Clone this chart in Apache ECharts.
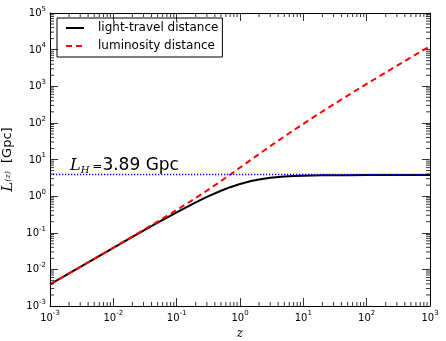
<!DOCTYPE html>
<html>
<head>
<meta charset="UTF-8">
<title>light-travel vs luminosity distance</title>
<script src="https://cdn.jsdelivr.net/npm/echarts@6/dist/echarts.min.js"></script>
<style>
  html, body { margin: 0; padding: 0; background: #fff; }
</style>
</head>
<body>
<div id="main" style="width: 446px;height:341px;"></div>
<script type="text/javascript">
// redshift samples and the two distances (Gpc)
var zVals = [0.001, 0.002, 0.005, 0.01, 0.02, 0.05, 0.1, 0.2, 0.3, 0.5, 0.7, 1, 1.5, 2, 3, 5, 7, 10, 20, 50, 100, 200, 500, 1000];
var lightTravel = [0.00389, 0.00777, 0.0194, 0.0386, 0.0767, 0.1878, 0.3623, 0.6773, 0.952, 1.404, 1.755, 2.149, 2.581, 2.852, 3.162, 3.429, 3.541, 3.621, 3.701, 3.737, 3.746, 3.749, 3.750, 3.750];
var lumDist = [0.003893, 0.007792, 0.01953, 0.0392, 0.0790, 0.2019, 0.4181, 0.8902, 1.410, 2.573, 3.869, 6.002, 9.909, 14.11, 23.09, 42.38, 62.69, 94.33, 204.9, 554.3, 1156, 2383, 6124, 12421];
var hubbleLen = 3.89;
var xRange = [0.001, 1000];
var yRange = [0.001, 100000];
var minorMult = [2, 3, 4, 5, 6, 7, 8, 9];

var myChart = echarts.init(document.getElementById('main'));

function pairs(xs, ys) {
    var out = [];
    for (var i = 0; i < xs.length; i++) out.push([xs[i], ys[i]]);
    return out;
}

// minor tick positions 2..9 x 10^k inside a range
function minorTicks(range) {
    var out = [];
    var k0 = Math.round(Math.log10(range[0])), k1 = Math.round(Math.log10(range[1]));
    for (var k = k0; k < k1; k++) {
        for (var j = 0; j < minorMult.length; j++) out.push(minorMult[j] * Math.pow(10, k));
    }
    return out;
}

function powLabel(v) {
    var e = Math.round(Math.log10(v));
    return '{b|10}{s|' + e + '}';
}
var powRich = {
    b: { fontSize: 10, fontFamily: 'DejaVu Sans', color: '#000', verticalAlign: 'bottom', lineHeight: 11 },
    s: { fontSize: 7, fontFamily: 'DejaVu Sans', color: '#000', verticalAlign: 'bottom', padding: [0, 0, 6, 0], lineHeight: 8 }
};

var tickStyle = { color: '#000', width: 0.8 };

var option = {
    animation: false,
    grid: { left: 50, right: 16, top: 13, bottom: 35, outerBoundsMode: 'none' },
    legend: {
        orient: 'vertical',
        left: 57,
        top: 18,
        padding: [3, 4, 4, 8],
        itemGap: 4,
        itemWidth: 18,
        itemHeight: 14,
        itemStyle: { opacity: 0 },
        borderColor: '#000',
        borderWidth: 1,
        borderRadius: 0,
        textStyle: { fontSize: 12, fontFamily: 'DejaVu Sans', color: '#000', padding: [0, 0, 0, 9], lineHeight: 14 },
        data: ['light-travel distance', 'luminosity distance']
    },
    xAxis: [{
        type: 'log', logBase: 10, min: xRange[0], max: xRange[1], splitNumber: 6,
        name: 'z', nameLocation: 'middle', nameGap: 14,
        nameTextStyle: { fontFamily: 'DejaVu Serif', fontStyle: 'italic', fontSize: 12, color: '#000', verticalAlign: 'top' },
        axisLine: { lineStyle: { color: '#000', width: 1 } },
        axisTick: { inside: true, length: 8, lineStyle: tickStyle },
        axisLabel: { margin: 6, formatter: powLabel, rich: powRich },
        splitLine: { show: false }
    }, {
        type: 'log', logBase: 10, min: xRange[0], max: xRange[1], splitNumber: 6, position: 'top',
        axisLine: { lineStyle: { color: '#000', width: 1 } },
        axisTick: { inside: true, length: 8, lineStyle: tickStyle },
        axisLabel: { show: false },
        splitLine: { show: false }
    }],
    yAxis: [{
        type: 'log', logBase: 10, min: yRange[0], max: yRange[1], splitNumber: 8,
        name: '{i|L}{p|(z)}  [Gpc]', nameLocation: 'middle', nameGap: 31, nameRotate: 90,
        nameTextStyle: {
            fontFamily: 'DejaVu Sans', fontSize: 13, color: '#000',
            rich: {
                i: { fontFamily: 'DejaVu Serif', fontStyle: 'italic', fontSize: 15, color: '#000' },
                p: { fontFamily: 'DejaVu Serif', fontStyle: 'italic', fontSize: 8, color: '#000' }
            }
        },
        axisLine: { lineStyle: { color: '#000', width: 1 } },
        axisTick: { inside: true, length: 8, lineStyle: tickStyle },
        axisLabel: { margin: 4, formatter: powLabel, rich: powRich },
        splitLine: { show: false }
    }, {
        type: 'log', logBase: 10, min: yRange[0], max: yRange[1], splitNumber: 8, position: 'right',
        axisLine: { lineStyle: { color: '#000', width: 1 } },
        axisTick: { inside: true, length: 8, lineStyle: tickStyle },
        axisLabel: { show: false },
        splitLine: { show: false }
    }],
    graphic: [{
        type: 'text',
        left: 70,
        top: 157,
        style: {
            text: '{i|L}{sub|H}{eq|=}{n|3.89 Gpc}',
            rich: {
                i: { fontFamily: 'DejaVu Serif', fontStyle: 'italic', fontSize: 16, color: '#000', lineHeight: 20 },
                sub: { fontFamily: 'DejaVu Serif', fontStyle: 'italic', fontSize: 10, color: '#000', lineHeight: 12, padding: [8, 0, 0, 0] },
                eq: { fontFamily: 'DejaVu Sans', fontSize: 12, color: '#000', lineHeight: 20, padding: [2, 0, 0, 3] },
                n: { fontFamily: 'DejaVu Sans', fontSize: 17, color: '#000', lineHeight: 20 }
            }
        }
    }],
    series: [{
        name: 'light-travel distance',
        type: 'line',
        symbol: 'none',
        data: pairs(zVals, lightTravel),
        lineStyle: { color: '#000', width: 2 },
        itemStyle: { color: '#000' },
        z: 3
    }, {
        name: 'luminosity distance',
        type: 'line',
        symbol: 'none',
        data: pairs(zVals, lumDist),
        lineStyle: { color: '#ff0000', width: 2, type: [6, 4] },
        itemStyle: { color: '#ff0000' },
        z: 4
    }, {
        name: 'L_H',
        type: 'line',
        symbol: 'none',
        data: [[xRange[0], hubbleLen], [xRange[1], hubbleLen]],
        lineStyle: { color: '#0000ff', width: 1.3, type: [1.3, 1.7] },
        z: 5
    }, {
        name: 'xminor',
        type: 'custom',
        silent: true,
        clip: false,
        data: minorTicks(xRange).map(function (v) { return [v, yRange[0]]; }),
        renderItem: function (params, api) {
            var b = api.coord([api.value(0), yRange[0]]);
            var t = api.coord([api.value(0), yRange[1]]);
            var st = { stroke: '#000', lineWidth: 0.8 };
            return { type: 'group', children: [
                { type: 'line', shape: { x1: b[0], y1: b[1], x2: b[0], y2: b[1] - 4 }, style: st },
                { type: 'line', shape: { x1: t[0], y1: t[1], x2: t[0], y2: t[1] + 4 }, style: st }
            ] };
        },
        z: 6
    }, {
        name: 'yminor',
        type: 'custom',
        silent: true,
        clip: false,
        data: minorTicks(yRange).map(function (v) { return [xRange[0], v]; }),
        renderItem: function (params, api) {
            var l = api.coord([xRange[0], api.value(1)]);
            var r = api.coord([xRange[1], api.value(1)]);
            var st = { stroke: '#000', lineWidth: 0.8 };
            return { type: 'group', children: [
                { type: 'line', shape: { x1: l[0], y1: l[1], x2: l[0] + 4, y2: l[1] }, style: st },
                { type: 'line', shape: { x1: r[0], y1: r[1], x2: r[0] - 4, y2: r[1] }, style: st }
            ] };
        },
        z: 6
    }]
};

myChart.setOption(option);
</script>
</body>
</html>
